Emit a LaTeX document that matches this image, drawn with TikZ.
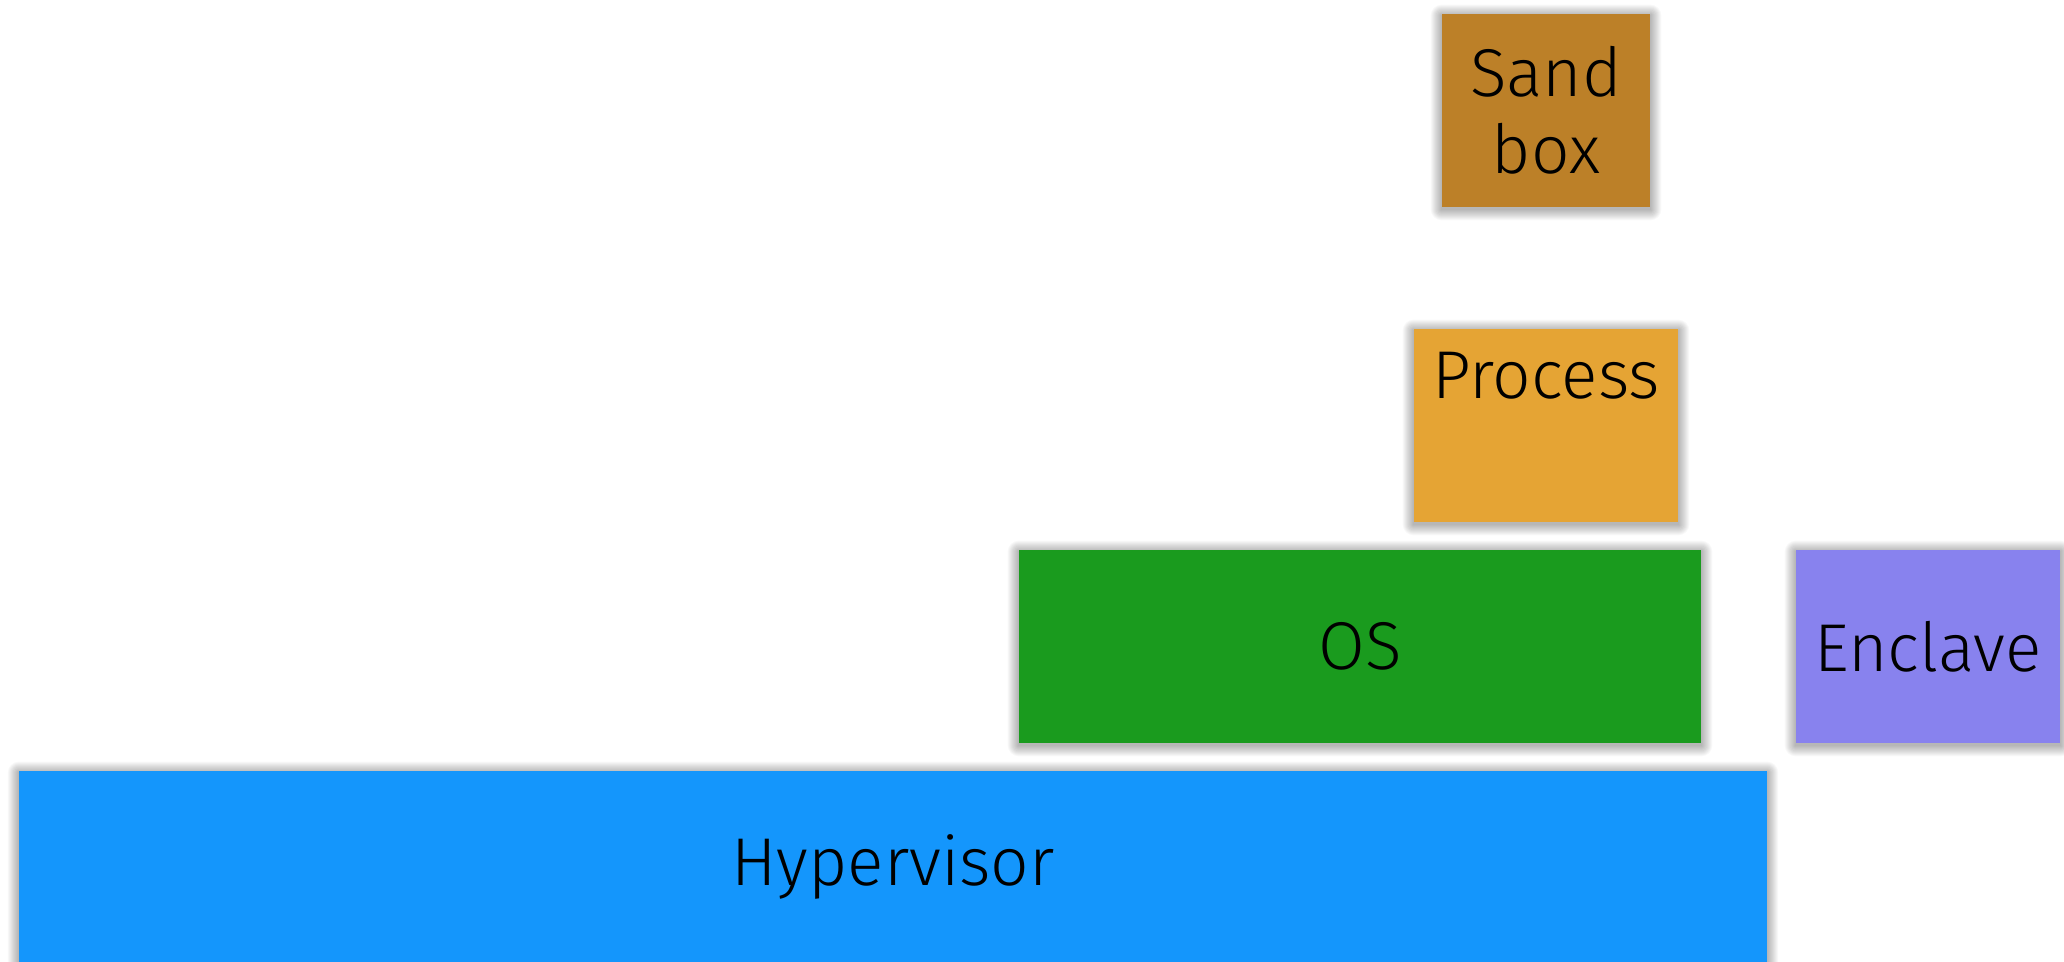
\documentclass[tikz,border=0pt]{standalone}
\usepackage{fontspec}
\setmainfont{Fira Sans}[UprightFont=* Light]
\usetikzlibrary{backgrounds}
\definecolor{sandc}{RGB}{188,128,40}
\definecolor{procc}{RGB}{229,164,52}
\definecolor{osc}{RGB}{26,155,30}
\definecolor{enclc}{RGB}{136,130,238}
\definecolor{hypc}{RGB}{20,150,252}
\tikzset{
  layerbox/.style={draw=none, inner sep=0pt, align=center, text=black,
    font=\fontsize{38.5}{44}\selectfont},
}
\begin{document}
\begin{tikzpicture}[x=0.02cm,y=-0.02cm]
\useasboundingbox (0,0) rectangle (2064,962);
\node[layerbox, fill=sandc, minimum width=4.16cm, minimum height=3.86cm] (sandbox) at (1546,110.5) {Sand\\box};
\node[layerbox, fill=procc, minimum width=5.28cm, minimum height=3.86cm] (process) at (1546,425.5) {Process\\\strut};
\node[layerbox, fill=osc, minimum width=13.64cm, minimum height=3.86cm] (os) at (1360,646.5) {OS};
\node[layerbox, fill=enclc, minimum width=5.28cm, minimum height=3.86cm] (enclave) at (1928,646.5) {Enclave};
\node[layerbox, fill=hypc, minimum width=34.96cm, minimum height=3.82cm] (hyper) at (893,866.5) {Hypervisor};
\begin{scope}[on background layer]
  \fill[white] (0,0) rectangle (2064,962);
  \foreach \n in {sandbox,process,os,enclave,hyper}{
    \foreach \k in {1,...,11}{
      \fill[black,opacity=0.028, rounded corners=\k*0.02cm]
        ([shift={(-\k*0.02cm,-\k*0.02cm-0.04cm)}]\n.south west) rectangle
        ([shift={(\k*0.02cm,\k*0.02cm-0.04cm)}]\n.north east);
    }
  }
\end{scope}
\end{tikzpicture}
\end{document}
